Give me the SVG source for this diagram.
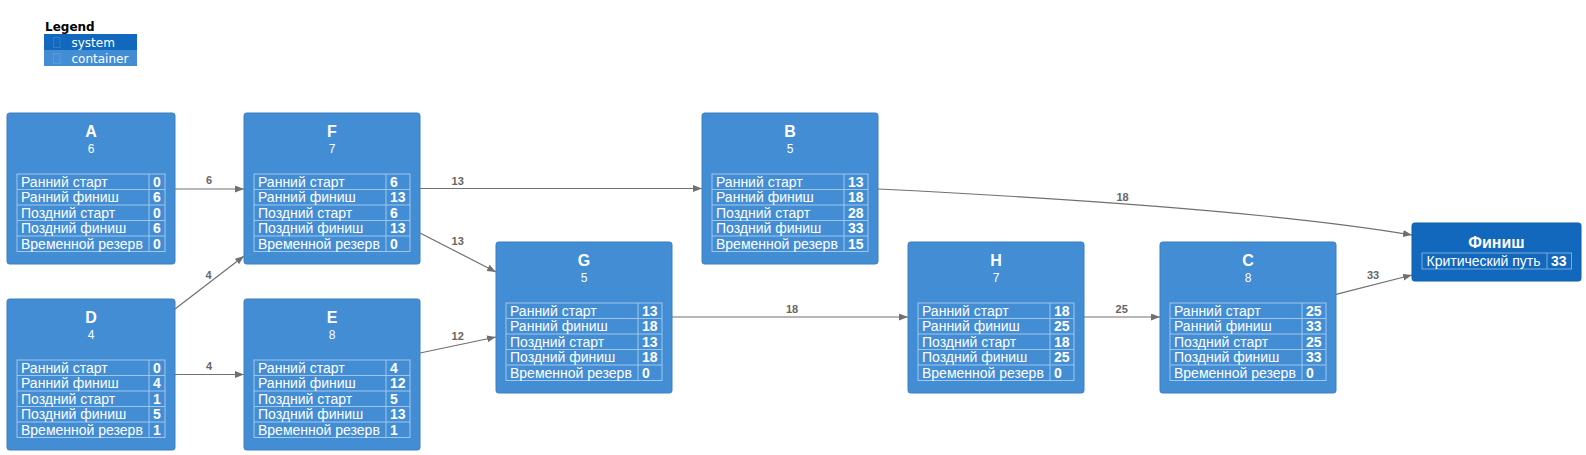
<svg xmlns="http://www.w3.org/2000/svg" width="1586" height="455" viewBox="0 0 1586 455">
<defs>
<style>
.node{fill:#438DD5;stroke:#3C7FC0;stroke-width:1}
.sys{fill:#1168BD;stroke:#0F5EAA;stroke-width:1}
.title{font-family:"Liberation Sans",Arial,sans-serif;font-size:16px;font-weight:bold;fill:#fff;text-anchor:middle}
.sub{font-family:"Liberation Sans",Arial,sans-serif;font-size:12px;fill:#fff;text-anchor:middle}
.tb{fill:none;stroke:#A1C6EA;stroke-width:1}
.lbl{font-family:"Liberation Sans",Arial,sans-serif;font-size:14px;fill:#fff}
.val{font-family:"Liberation Sans",Arial,sans-serif;font-size:14px;font-weight:bold;fill:#fff}
.edge{fill:none;stroke:#707070;stroke-width:1.2}
.elbl{font-family:"Liberation Sans",Arial,sans-serif;font-size:11px;font-weight:bold;fill:#666;text-anchor:middle}
.leg{font-family:"DejaVu Sans",sans-serif;font-size:12px;fill:#fff}
.legt{font-family:"DejaVu Sans",sans-serif;font-size:12px;font-weight:bold;fill:#000}
</style>
<marker id="arr" markerUnits="userSpaceOnUse" markerWidth="10" markerHeight="8" refX="9" refY="3.5" orient="auto">
<path d="M0,0 L9,3.5 L0,7 z" fill="#707070"/>
</marker>
</defs>
<rect width="1586" height="455" fill="#fff"/>

<g id="legend">
<text class="legt" x="45" y="30.5">Legend</text>
<rect x="44" y="34" width="93" height="16" fill="#1168BD"/>
<rect x="53.5" y="37.5" width="6.5" height="10" fill="none" stroke="#2F7ECB" stroke-width="1"/>
<text class="leg" x="71.5" y="46.5">system</text>
<rect x="44" y="50" width="93" height="16" fill="#438DD5"/>
<rect x="53.5" y="53.5" width="6.5" height="10" fill="none" stroke="#5A9ADA" stroke-width="1"/>
<text class="leg" x="71.5" y="62.5">container</text>
</g>

<g id="connectors">
<path class="edge" marker-end="url(#arr)" d="M175,189 L244,189"/>
<text class="elbl" x="209" y="184">6</text>
<path class="edge" marker-end="url(#arr)" d="M175,374.5 L244,374.5"/>
<text class="elbl" x="209" y="370">4</text>
<path class="edge" marker-end="url(#arr)" d="M175,309 L244,256"/>
<text class="elbl" x="208.5" y="279">4</text>
<path class="edge" marker-end="url(#arr)" d="M420,188.5 L702,188.5"/>
<text class="elbl" x="457.7" y="184.5">13</text>
<path class="edge" marker-end="url(#arr)" d="M420,233 L496,272"/>
<text class="elbl" x="457.7" y="245">13</text>
<path class="edge" marker-end="url(#arr)" d="M420,353 L496,337"/>
<text class="elbl" x="457.7" y="340">12</text>
<path class="edge" marker-end="url(#arr)" d="M672,317 L908,317"/>
<text class="elbl" x="792" y="312.5">18</text>
<path class="edge" marker-end="url(#arr)" d="M1084,317 L1160,317"/>
<text class="elbl" x="1121.7" y="312.5">25</text>
<path class="edge" marker-end="url(#arr)" d="M878,189 Q1250,207.5 1412,235"/>
<text class="elbl" x="1122.5" y="200.5">18</text>
<path class="edge" marker-end="url(#arr)" d="M1336,294.3 L1412,275"/>
<text class="elbl" x="1373" y="279">33</text>
</g>

<g id="node-A" transform="translate(7,113)">
<rect class="node" x="0" y="0" width="168" height="151" rx="2.5"/>
<text class="title" x="84" y="24">A</text>
<text class="sub" x="84" y="40">6</text>
<rect class="tb" x="10" y="61" width="148" height="77.5"/>
<path class="tb" d="M10,76.5H158M10,92H158M10,107.5H158M10,123H158M142,61V138.5"/>
<text class="lbl" x="14" y="73.5">Ранний старт</text><text class="val" x="146" y="73.5">0</text>
<text class="lbl" x="14" y="89">Ранний финиш</text><text class="val" x="146" y="89">6</text>
<text class="lbl" x="14" y="104.5">Поздний старт</text><text class="val" x="146" y="104.5">0</text>
<text class="lbl" x="14" y="120">Поздний финиш</text><text class="val" x="146" y="120">6</text>
<text class="lbl" x="14" y="135.5">Временной резерв</text><text class="val" x="146" y="135.5">0</text>
</g>

<g id="node-D" transform="translate(7,299)">
<rect class="node" x="0" y="0" width="168" height="151" rx="2.5"/>
<text class="title" x="84" y="24">D</text>
<text class="sub" x="84" y="40">4</text>
<rect class="tb" x="10" y="61" width="148" height="77.5"/>
<path class="tb" d="M10,76.5H158M10,92H158M10,107.5H158M10,123H158M142,61V138.5"/>
<text class="lbl" x="14" y="73.5">Ранний старт</text><text class="val" x="146" y="73.5">0</text>
<text class="lbl" x="14" y="89">Ранний финиш</text><text class="val" x="146" y="89">4</text>
<text class="lbl" x="14" y="104.5">Поздний старт</text><text class="val" x="146" y="104.5">1</text>
<text class="lbl" x="14" y="120">Поздний финиш</text><text class="val" x="146" y="120">5</text>
<text class="lbl" x="14" y="135.5">Временной резерв</text><text class="val" x="146" y="135.5">1</text>
</g>

<g id="node-F" transform="translate(244,113)">
<rect class="node" x="0" y="0" width="176" height="151" rx="2.5"/>
<text class="title" x="88" y="24">F</text>
<text class="sub" x="88" y="40">7</text>
<rect class="tb" x="10" y="61" width="156" height="77.5"/>
<path class="tb" d="M10,76.5H166M10,92H166M10,107.5H166M10,123H166M142,61V138.5"/>
<text class="lbl" x="14" y="73.5">Ранний старт</text><text class="val" x="146" y="73.5">6</text>
<text class="lbl" x="14" y="89">Ранний финиш</text><text class="val" x="146" y="89">13</text>
<text class="lbl" x="14" y="104.5">Поздний старт</text><text class="val" x="146" y="104.5">6</text>
<text class="lbl" x="14" y="120">Поздний финиш</text><text class="val" x="146" y="120">13</text>
<text class="lbl" x="14" y="135.5">Временной резерв</text><text class="val" x="146" y="135.5">0</text>
</g>

<g id="node-E" transform="translate(244,299)">
<rect class="node" x="0" y="0" width="176" height="151" rx="2.5"/>
<text class="title" x="88" y="24">E</text>
<text class="sub" x="88" y="40">8</text>
<rect class="tb" x="10" y="61" width="156" height="77.5"/>
<path class="tb" d="M10,76.5H166M10,92H166M10,107.5H166M10,123H166M142,61V138.5"/>
<text class="lbl" x="14" y="73.5">Ранний старт</text><text class="val" x="146" y="73.5">4</text>
<text class="lbl" x="14" y="89">Ранний финиш</text><text class="val" x="146" y="89">12</text>
<text class="lbl" x="14" y="104.5">Поздний старт</text><text class="val" x="146" y="104.5">5</text>
<text class="lbl" x="14" y="120">Поздний финиш</text><text class="val" x="146" y="120">13</text>
<text class="lbl" x="14" y="135.5">Временной резерв</text><text class="val" x="146" y="135.5">1</text>
</g>

<g id="node-G" transform="translate(496,242)">
<rect class="node" x="0" y="0" width="176" height="151" rx="2.5"/>
<text class="title" x="88" y="24">G</text>
<text class="sub" x="88" y="40">5</text>
<rect class="tb" x="10" y="61" width="156" height="77.5"/>
<path class="tb" d="M10,76.5H166M10,92H166M10,107.5H166M10,123H166M142,61V138.5"/>
<text class="lbl" x="14" y="73.5">Ранний старт</text><text class="val" x="146" y="73.5">13</text>
<text class="lbl" x="14" y="89">Ранний финиш</text><text class="val" x="146" y="89">18</text>
<text class="lbl" x="14" y="104.5">Поздний старт</text><text class="val" x="146" y="104.5">13</text>
<text class="lbl" x="14" y="120">Поздний финиш</text><text class="val" x="146" y="120">18</text>
<text class="lbl" x="14" y="135.5">Временной резерв</text><text class="val" x="146" y="135.5">0</text>
</g>

<g id="node-B" transform="translate(702,113)">
<rect class="node" x="0" y="0" width="176" height="151" rx="2.5"/>
<text class="title" x="88" y="24">B</text>
<text class="sub" x="88" y="40">5</text>
<rect class="tb" x="10" y="61" width="156" height="77.5"/>
<path class="tb" d="M10,76.5H166M10,92H166M10,107.5H166M10,123H166M142,61V138.5"/>
<text class="lbl" x="14" y="73.5">Ранний старт</text><text class="val" x="146" y="73.5">13</text>
<text class="lbl" x="14" y="89">Ранний финиш</text><text class="val" x="146" y="89">18</text>
<text class="lbl" x="14" y="104.5">Поздний старт</text><text class="val" x="146" y="104.5">28</text>
<text class="lbl" x="14" y="120">Поздний финиш</text><text class="val" x="146" y="120">33</text>
<text class="lbl" x="14" y="135.5">Временной резерв</text><text class="val" x="146" y="135.5">15</text>
</g>

<g id="node-H" transform="translate(908,242)">
<rect class="node" x="0" y="0" width="176" height="151" rx="2.5"/>
<text class="title" x="88" y="24">H</text>
<text class="sub" x="88" y="40">7</text>
<rect class="tb" x="10" y="61" width="156" height="77.5"/>
<path class="tb" d="M10,76.5H166M10,92H166M10,107.5H166M10,123H166M142,61V138.5"/>
<text class="lbl" x="14" y="73.5">Ранний старт</text><text class="val" x="146" y="73.5">18</text>
<text class="lbl" x="14" y="89">Ранний финиш</text><text class="val" x="146" y="89">25</text>
<text class="lbl" x="14" y="104.5">Поздний старт</text><text class="val" x="146" y="104.5">18</text>
<text class="lbl" x="14" y="120">Поздний финиш</text><text class="val" x="146" y="120">25</text>
<text class="lbl" x="14" y="135.5">Временной резерв</text><text class="val" x="146" y="135.5">0</text>
</g>

<g id="node-C" transform="translate(1160,242)">
<rect class="node" x="0" y="0" width="176" height="151" rx="2.5"/>
<text class="title" x="88" y="24">C</text>
<text class="sub" x="88" y="40">8</text>
<rect class="tb" x="10" y="61" width="156" height="77.5"/>
<path class="tb" d="M10,76.5H166M10,92H166M10,107.5H166M10,123H166M142,61V138.5"/>
<text class="lbl" x="14" y="73.5">Ранний старт</text><text class="val" x="146" y="73.5">25</text>
<text class="lbl" x="14" y="89">Ранний финиш</text><text class="val" x="146" y="89">33</text>
<text class="lbl" x="14" y="104.5">Поздний старт</text><text class="val" x="146" y="104.5">25</text>
<text class="lbl" x="14" y="120">Поздний финиш</text><text class="val" x="146" y="120">33</text>
<text class="lbl" x="14" y="135.5">Временной резерв</text><text class="val" x="146" y="135.5">0</text>
</g>

<g id="node-finish" transform="translate(1412,223)">
<rect class="sys" x="0" y="0" width="169" height="58" rx="2.5"/>
<text class="title" x="84.5" y="24.5">Финиш</text>
<rect class="tb" x="10" y="30" width="149.5" height="16" style="stroke:#7FABDC"/>
<path class="tb" d="M135,30V46" style="stroke:#7FABDC"/>
<text class="lbl" x="14.5" y="42.5">Критический путь</text><text class="val" x="139" y="42.5">33</text>
</g>
</svg>
